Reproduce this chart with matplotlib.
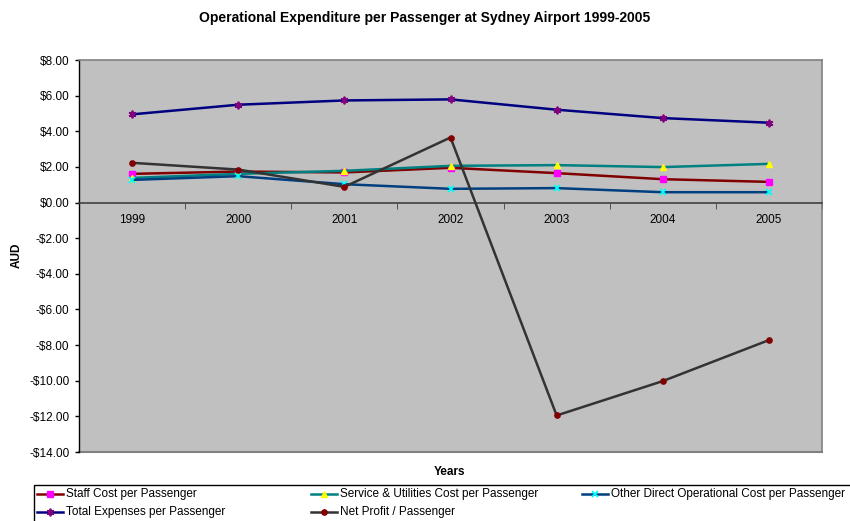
import numpy as np
import matplotlib
matplotlib.use("Agg")
import matplotlib.pyplot as plt
from matplotlib.lines import Line2D
from matplotlib.patches import Rectangle
from matplotlib.ticker import FuncFormatter, FixedLocator

plt.rcParams['font.family'] = ['Liberation Sans', 'DejaVu Sans']

years = ['1999', '2000', '2001', '2002', '2003', '2004', '2005']
staff = [1.61, 1.74, 1.69, 1.95, 1.65, 1.31, 1.16]
service = [1.38, 1.61, 1.78, 2.06, 2.10, 1.99, 2.17]
other = [1.27, 1.48, 1.03, 0.77, 0.81, 0.58, 0.58]
total = [4.95, 5.49, 5.73, 5.79, 5.21, 4.74, 4.48]
net = [2.23, 1.85, 0.88, 3.65, -11.95, -10.02, -7.72]

series_names = ['Staff Cost per Passenger', 'Service & Utilities Cost per Passenger',
                'Other Direct Operational Cost per Passenger', 'Total Expenses per Passenger',
                'Net Profit / Passenger']

W, H = 850, 521
fig = plt.figure(figsize=(W / 100, H / 100), dpi=100)
ax = fig.add_axes([79 / W, 1 - 452 / H, (822 - 79) / W, (452 - 60) / H])
ax.set_facecolor('#C0C0C0')

x = np.arange(len(years))
styles = [
    dict(color='#800000', marker='s', mfc='#FF00FF', mec='#FF00FF', ms=4.5),
    dict(color='#008080', marker='^', mfc='#FFFF00', mec='#FFFF00', ms=5),
    dict(color='#003F7F', marker='x', mfc='#00FFFF', mec='#00FFFF', ms=4.5, mew=1.3),
    dict(color='#000080', marker=(6, 2, 0), mfc='#800080', mec='#800080', ms=5.5, mew=1.3),
    dict(color='#333333', marker='o', mfc='#800000', mec='#800000', ms=3.8),
]
data = [staff, service, other, total, net]
for vals, st, name in zip(data, styles, series_names):
    ax.plot(x, vals, lw=1.8, label=name, zorder=3, **st)

ax.set_xlim(-0.5, 6.5)
ax.set_ylim(-14, 8)

# spines
for s in ['top', 'right']:
    ax.spines[s].set_color('#808080')
    ax.spines[s].set_linewidth(1.2)
ax.spines['left'].set_color('black')
ax.spines['left'].set_linewidth(1.0)
ax.spines['bottom'].set_position(('data', 0))
ax.spines['bottom'].set_color('#404040')
ax.spines['bottom'].set_linewidth(1.2)
ax.plot([0, 1], [0, 0], transform=ax.transAxes, color='#808080', lw=1.5,
        clip_on=False, zorder=1)

# x ticks
ax.set_xticks(x)
ax.set_xticklabels(years, fontsize=8.5)
ax.xaxis.set_minor_locator(FixedLocator(np.arange(-0.5, 7.0, 1.0)))
ax.tick_params(axis='x', which='major', length=0, pad=8)
ax.tick_params(axis='x', which='minor', length=4, direction='out', color='#404040')

# y ticks
ax.set_yticks(np.arange(-14, 9, 2))
ax.yaxis.set_major_formatter(FuncFormatter(
    lambda v, p: f'${v:.2f}' if v >= 0 else f'-${-v:.2f}'))
ax.tick_params(axis='y', length=3, width=1, pad=4, labelsize=8.5)

fig.text(0.5, 1 - 18 / H, 'Operational Expenditure per Passenger at Sydney Airport 1999-2005',
         ha='center', va='center', fontsize=10, fontweight='bold')
fig.text(16.5 / W, 1 - 255 / H, 'AUD', rotation=90, ha='center', va='center',
         fontsize=8.5, fontweight='bold')
fig.text(450 / W, 1 - 472 / H, 'Years', ha='center', va='center',
         fontsize=8.5, fontweight='bold')

# legend (Excel style, row-major)
fig.add_artist(Rectangle((34 / W, -0.05), 1.0, (521 - 485) / H + 0.05,
                         transform=fig.transFigure, fill=False,
                         edgecolor='black', lw=1.0))
col_x = [37, 311, 582]
row_y = [494, 512]
for i, (name, st) in enumerate(zip(series_names, styles)):
    r, c = divmod(i, 3)
    x0 = col_x[c]
    x1 = x0 + 26
    yy = 1 - row_y[r] / H
    fig.add_artist(Line2D([x0 / W, x1 / W], [yy, yy], transform=fig.transFigure,
                          color=st['color'], lw=1.8))
    mk = {k: v for k, v in st.items() if k != 'color'}
    fig.add_artist(Line2D([(x0 + x1) / 2 / W], [yy], transform=fig.transFigure,
                          linestyle='none', **mk))
    fig.text((x1 + 3) / W, yy, name, ha='left', va='center', fontsize=8.5)

fig.savefig('out.png', dpi=100)
